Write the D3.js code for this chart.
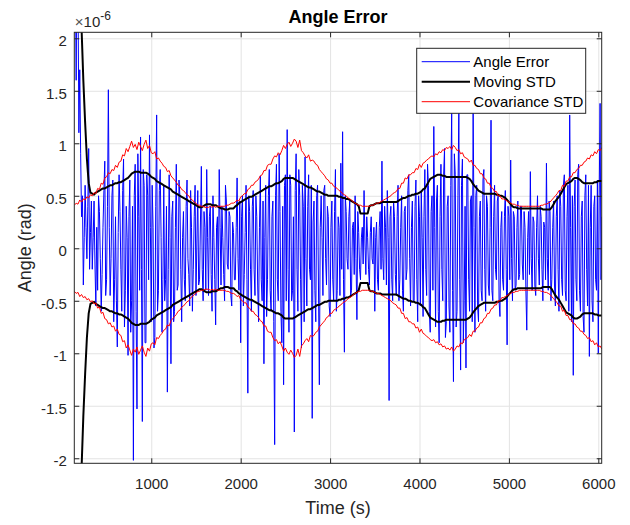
<!DOCTYPE html>
<html>
<head>
<meta charset="utf-8">
<script src="https://cdn.jsdelivr.net/npm/d3@7"></script>
<style>
  body { margin: 0; background: #fff; }
  text { font-family: "Liberation Sans", Arial, Helvetica, sans-serif; fill: #262626; }
  .grid line { stroke: #e3e3e3; stroke-width: 1; }
  .grid path { display: none; }
  .axis path { display: none; }
  .axis line { stroke: #262626; }
</style>
</head>
<body>
<div id="chart"></div>
<script>
// sampling (s): angle error every 10 s, the two std curves every 20 s
let t0 = 140;
let dtErr = 10;
let dtStd = 20;

// angle error, x1e-6 rad
let angleError = [
  3.5, 2.8, 1.6, 3.0, 2.5, 1.1, 1.7, 0.9, 0.3, 0.5, -0.35, 0.1, 0.6, 0.2, -0.1, 0.4, 0.95, -0.2, 0.15, 0.45,
  -0.2, 0.1, 0.45, -0.15, -0.55, 0.2, -0.4, 0.5, 0.35, -0.1, -0.6, -0.25, 0.2, 0.55, 0.83, -0.45, -0.3, 0.4, 1.51, 0.2,
  -0.45, -0.1, 0.5, 0.65, -0.7, -0.3, 0.3, -0.5, -0.94, 0.15, 0.7, 0.35, -0.2, -0.6, 0.55, 0.85, -0.75, -0.4, 0.4, 0.1,
  -1.02, 0.3, 0.65, -0.8, -0.5, 0.4, -2.02, 0.5, 0.8, -0.6, -1.53, 0.9, 0.3, -0.4, 1.06, -0.2, -1.65, 0.75, 0.6, -0.9,
  -0.9, 0.7, 0.5, -0.3, 1.08, 0.2, -0.7, 0.6, 0.2, -0.95, -0.85, 0.4, 1.27, -0.6, -0.4, 0.55, 0.75, 0.1, -0.8, -0.3,
  0.6, -0.5, -0.3, 0.4, -1.37, -0.2, 0.7, 0.1, -1.1, 0.3, 0.45, -0.7, -0.6, 0.2, 0.8, -0.4, -0.35, 0.65, 0.5, -0.2,
  -0.7, 0.1, 0.35, -0.3, -0.5, 0.4, 0.65, -0.1, -0.25, -0.55, 0.55, 0.2, -0.6, -0.2, 0.3, 0.6, -0.45, 0.05, 0.55, -0.35,
  -0.3, 0.25, 0.78, -0.2, -0.5, 0.35, 0.2, -0.4, 0.75, 0.1, -0.45, 0.3, 0.4, -0.25, -0.6, 0.5, 0.1, -0.3, -0.73, 0.2,
  0.3, -0.4, 0.75, 0.2, -0.35, 0.4, 0.1, -0.25, -0.5, 0.6, 0.45, -0.15, -0.2, 0.35, 0.3, -0.45, -0.55, 0.25, 0.15, -0.3,
  -0.3, 0.2, 0.67, -0.1, -0.4, 0.45, -0.9, 0.3, 0.5, -0.55, -0.25, 0.15, 0.6, -0.3, -1.38, 0.5, 0.35, -0.2, -0.6, 0.4,
  0.55, -0.2, -0.45, 0.5, 0.3, -0.35, -0.7, 0.2, 0.69, -0.3, -0.5, 0.45, -1.1, 0.1, 0.6, -0.65, -0.3, 0.5, 0.75, -0.4,
  -0.6, 0.3, 0.45, -0.7, -1.87, 0.5, 0.8, -0.3, -0.5, 0.9, 0.35, -0.6, -0.9, 0.4, -1.3, 0.6, 0.7, -0.5, 1.13, -0.2,
  -0.8, 0.7, 0.6, -0.5, -0.4, 0.3, -1.75, 0.55, 0.9, -0.2, -0.6, 0.75, 0.5, -0.3, -0.95, 0.6, 0.4, -0.7, 0.87, -0.1,
  -0.55, 0.4, 0.7, -0.2, -0.3, 0.6, -1.62, 0.25, 0.45, -0.4, -0.7, 0.5, 0.6, -0.35, -1.3, 0.2, 0.5, 0.1, -0.45, 0.55,
  0.6, -0.1, -0.35, 0.4, 0.3, -0.55, -0.65, 0.2, 0.45, -0.3, -0.5, 0.35, 0.75, -0.6, -0.4, 0.3, 0.2, -0.45, 0.81, -0.2,
  1.11, -0.3, -0.99, 0.5, 0.35, -0.1, -0.2, 0.3, 0.45, -0.45, -0.4, 0.2, 0.25, -0.25, 0.5, -0.1, -0.68, 0.35, 0.15, -0.2,
  -0.3, 0.1, 0.2, -0.15, 0.55, 0.05, -0.25, 0.3, 0.1, -0.2, -0.35, 0.15, 0.3, -0.1, -0.15, 0.2, -0.6, 0.1, 0.25, -0.3,
  -0.4, 0.2, 0.35, -0.2, 0.83, -0.1, -0.3, 0.4, 0.2, -0.35, 0.55, 0.1, -1.45, 0.3, 0.4, -0.3, -0.5, 0.45, 0.3, -0.25,
  -0.45, 0.3, 0.6, -0.5, -0.3, 0.2, 0.5, -0.4, -0.6, 0.35, 0.4, -0.3, -0.2, 0.55, 0.7, -0.1, -0.55, 0.2, 0.45, -0.5,
  -0.5, 0.4, 0.65, -0.3, -0.7, 0.5, 0.3, -0.55, 0.55, 0.1, -0.65, 0.3, 0.75, -0.2, -0.45, 0.8, 0.6, -0.6, -0.8, 0.35,
  0.5, -0.4, 1.16, 0.2, -0.75, 0.45, 0.6, -0.6, -0.9, 0.3, 0.8, -0.2, -0.5, 0.7, 0.95, -0.85, -0.7, 0.4, 0.5, -0.55,
  -0.8, 0.6, 1.29, -0.4, -1.27, 0.9, 0.7, -0.75, -0.6, 0.5, 1.29, -0.3, -1.16, 0.6, 0.85, -0.9, -0.5, 0.4, -1.14, 0.7,
  0.7, -0.3, -0.6, 0.45, 0.5, -0.7, 1.33, 0.2, -0.8, 0.5, 0.6, -0.55, -0.7, 0.3, 0.45, -0.4, -0.5, 0.65, 0.75, -0.2,
  -0.6, 0.5, 0.4, -0.35, -0.45, 0.2, 1.22, -0.4, -0.5, 0.3, 0.6, -0.2, -0.3, 0.45, 0.5, -0.5, -0.65, 0.2, 0.35, -0.3,
  -0.4, 0.3, 0.55, -0.2, -0.92, 0.4, 0.3, -0.3, 0.84, -0.1, -0.5, 0.35, 0.3, -0.4, -0.35, 0.2, 0.45, -0.3, -0.25, 0.4,
  0.4, -0.15, -0.3, 0.35, 0.2, -0.4, -0.78, 0.1, 0.35, -0.25, 0.73, -0.1, -0.4, 0.3, 0.25, -0.35, -0.45, 0.2, 0.5, -0.1,
  -0.35, 0.4, 0.3, -0.2, -0.5, 0.25, 0.2, -0.3, 0.81, -0.1, -0.4, 0.45, 0.35, -0.5, -0.3, 0.2, 0.45, -0.35, -0.55, 0.3,
  0.5, -0.2, -0.6, 0.55, 0.4, -0.3, -0.45, 0.6, 0.7, -0.4, -0.5, 0.3, 0.6, -0.6, 1.27, 0.2, -0.7, 0.5, -1.21, 0.4,
  0.65, -0.3, -0.5, 0.7, 0.8, -0.4, -0.6, 0.3, 0.45, -0.65, -0.8, 0.5, 0.7, -0.2, -0.55, 0.6, -1.03, 0.2, 0.6, -0.5,
  -0.7, 0.4, 0.5, -0.3, -0.4, 0.65, -1.0, 0.5, 1.38, -0.3, 0.3
];

// moving standard deviation (plotted as +/-)
let movingStd = [
  5.0, 4.0, 3.2, 2.6, 2.1, 1.6, 1.2, 0.85, 0.62, 0.53,
  0.52, 0.51, 0.53, 0.54, 0.55, 0.56, 0.57, 0.57, 0.58, 0.59,
  0.60, 0.60, 0.61, 0.62, 0.62, 0.63, 0.63, 0.64, 0.65, 0.66,
  0.67, 0.69, 0.71, 0.72, 0.73, 0.73, 0.73, 0.72, 0.72, 0.72,
  0.72, 0.71, 0.70, 0.68, 0.67, 0.66, 0.64, 0.63, 0.62, 0.61,
  0.60, 0.59, 0.58, 0.57, 0.56, 0.54, 0.53, 0.52, 0.51, 0.50,
  0.49, 0.48, 0.47, 0.46, 0.45, 0.44, 0.43, 0.42, 0.41, 0.40,
  0.39, 0.39, 0.40, 0.41, 0.42, 0.42, 0.42, 0.41, 0.41, 0.41,
  0.40, 0.39, 0.38, 0.38, 0.37, 0.37, 0.37, 0.38, 0.38, 0.38,
  0.40, 0.41, 0.43, 0.44, 0.45, 0.46, 0.47, 0.48, 0.49, 0.49,
  0.50, 0.51, 0.52, 0.53, 0.54, 0.55, 0.56, 0.57, 0.58, 0.59,
  0.59, 0.60, 0.61, 0.62, 0.62, 0.63, 0.64, 0.66, 0.67, 0.67,
  0.67, 0.67, 0.67, 0.66, 0.65, 0.64, 0.63, 0.62, 0.61, 0.60,
  0.59, 0.58, 0.58, 0.57, 0.56, 0.55, 0.54, 0.54, 0.53, 0.52,
  0.51, 0.51, 0.50, 0.50, 0.50, 0.50, 0.50, 0.50, 0.49, 0.49,
  0.48, 0.48, 0.47, 0.47, 0.46, 0.45, 0.44, 0.43, 0.42, 0.40,
  0.33, 0.33, 0.33, 0.33, 0.33, 0.40, 0.41, 0.41, 0.42, 0.43,
  0.43, 0.43, 0.44, 0.44, 0.44, 0.44, 0.44, 0.44, 0.44, 0.44,
  0.44, 0.45, 0.46, 0.47, 0.48, 0.48, 0.49, 0.50, 0.50, 0.51,
  0.51, 0.52, 0.52, 0.53, 0.54, 0.56, 0.57, 0.60, 0.63, 0.66,
  0.67, 0.68, 0.69, 0.70, 0.70, 0.70, 0.69, 0.69, 0.68, 0.68,
  0.68, 0.68, 0.68, 0.68, 0.68, 0.68, 0.68, 0.68, 0.68, 0.68,
  0.67, 0.66, 0.64, 0.61, 0.59, 0.57, 0.55, 0.54, 0.53, 0.52,
  0.52, 0.52, 0.52, 0.52, 0.52, 0.52, 0.51, 0.51, 0.50, 0.50,
  0.49, 0.48, 0.46, 0.44, 0.42, 0.40, 0.39, 0.39, 0.38, 0.38,
  0.38, 0.38, 0.38, 0.38, 0.38, 0.38, 0.38, 0.38, 0.38, 0.38,
  0.38, 0.38, 0.37, 0.37, 0.37, 0.37, 0.37, 0.39, 0.42, 0.45,
  0.47, 0.49, 0.52, 0.55, 0.58, 0.61, 0.62, 0.63, 0.64, 0.66,
  0.67, 0.67, 0.66, 0.65, 0.63, 0.62, 0.62, 0.62, 0.62, 0.62,
  0.62, 0.63, 0.63, 0.64, 0.64, 0.64
];

// covariance standard deviation (plotted as +/-)
let covStd = [
  0.41, 0.43, 0.42, 0.46, 0.44, 0.47, 0.46, 0.49, 0.48, 0.51,
  0.50, 0.53, 0.52, 0.57, 0.56, 0.62, 0.61, 0.67, 0.68, 0.72,
  0.71, 0.75, 0.74, 0.79, 0.77, 0.82, 0.83, 0.89, 0.88, 0.95,
  0.92, 0.97, 1.02, 0.96, 0.99, 0.94, 1.01, 0.97, 0.93, 0.99,
  1.03, 0.95, 0.98, 0.91, 0.90, 0.92, 0.85, 0.86, 0.83, 0.81,
  0.78, 0.77, 0.73, 0.74, 0.69, 0.67, 0.65, 0.63, 0.60, 0.59,
  0.56, 0.55, 0.53, 0.51, 0.50, 0.47, 0.46, 0.44, 0.43, 0.41,
  0.41, 0.40, 0.40, 0.39, 0.39, 0.39, 0.40, 0.39, 0.40, 0.39,
  0.40, 0.40, 0.40, 0.40, 0.40, 0.41, 0.41, 0.42, 0.43, 0.43,
  0.44, 0.46, 0.45, 0.49, 0.50, 0.52, 0.52, 0.56, 0.57, 0.60,
  0.60, 0.63, 0.64, 0.66, 0.69, 0.70, 0.74, 0.74, 0.79, 0.80,
  0.80, 0.85, 0.88, 0.87, 0.91, 0.89, 0.93, 0.98, 0.95, 0.99,
  1.01, 0.97, 1.00, 1.04, 1.02, 0.96, 1.03, 0.93, 0.91, 0.88,
  0.86, 0.89, 0.83, 0.84, 0.83, 0.80, 0.79, 0.75, 0.73, 0.71,
  0.69, 0.66, 0.65, 0.62, 0.62, 0.59, 0.58, 0.57, 0.55, 0.54,
  0.52, 0.51, 0.50, 0.48, 0.47, 0.46, 0.44, 0.43, 0.42, 0.41,
  0.41, 0.40, 0.40, 0.40, 0.40, 0.40, 0.41, 0.41, 0.42, 0.43,
  0.43, 0.44, 0.45, 0.46, 0.47, 0.48, 0.49, 0.50, 0.52, 0.53,
  0.54, 0.57, 0.57, 0.62, 0.62, 0.67, 0.66, 0.70, 0.70, 0.72,
  0.72, 0.76, 0.75, 0.80, 0.77, 0.81, 0.82, 0.84, 0.85, 0.87,
  0.88, 0.87, 0.90, 0.89, 0.92, 0.91, 0.94, 0.93, 0.96, 0.95,
  0.97, 0.94, 0.98, 0.96, 0.93, 0.94, 0.90, 0.91, 0.87, 0.86,
  0.85, 0.82, 0.84, 0.79, 0.79, 0.76, 0.75, 0.71, 0.71, 0.67,
  0.66, 0.62, 0.62, 0.58, 0.57, 0.54, 0.54, 0.50, 0.50, 0.47,
  0.47, 0.46, 0.45, 0.44, 0.43, 0.42, 0.42, 0.41, 0.41, 0.40,
  0.40, 0.40, 0.40, 0.40, 0.40, 0.40, 0.40, 0.40, 0.40, 0.40,
  0.40, 0.41, 0.41, 0.42, 0.42, 0.43, 0.44, 0.46, 0.48, 0.50,
  0.52, 0.55, 0.55, 0.60, 0.59, 0.64, 0.64, 0.68, 0.68, 0.72,
  0.72, 0.75, 0.76, 0.79, 0.79, 0.82, 0.83, 0.86, 0.85, 0.89,
  0.88, 0.92, 0.90, 0.94, 0.93, 0.96
];

let xTicks = [1000, 2000, 3000, 4000, 5000, 6000];
let yTicks = [-2, -1.5, -1, -0.5, 0, 0.5, 1, 1.5, 2];
let yTickLabels = ["-2", "-1.5", "-1", "-0.5", "0", "0.5", "1", "1.5", "2"];
let seriesNames = ["Angle Error", "Moving STD", "Covariance STD"];
let seriesColors = ["#0000ff", "#000000", "#ff0000"];
let seriesWidths = [1, 2, 1];

let W = 630, H = 525;
let margin = {top: 32.3, left: 74.3, bottom: 61.7, right: 28.3};
let width = W - margin.left - margin.right;
let height = H - margin.top - margin.bottom;

let errData = angleError.map((d, i) => ({t: t0 + i * dtErr, v: d}));
let stdData = movingStd.map((d, i) => ({t: t0 + i * dtStd, ms: d, cs: covStd[i]}));

let xScale = d3.scaleLinear()
  .domain([139, 6038])
  .range([0, width]);

let yScale = d3.scaleLinear()
  .domain([-2.048, 2.057])
  .range([height, 0]);

let svg = d3.select("#chart").append("svg")
    .attr("width", W)
    .attr("height", H)
  .append("g")
    .attr("transform", `translate(${margin.left}, ${margin.top})`);

svg.append("rect")
    .attr("width", width)
    .attr("height", height)
    .attr("fill", "#fff");

// grid
svg.append("g")
    .attr("class", "grid")
    .attr("transform", `translate(0, ${height})`)
    .call(d3.axisBottom(xScale).tickValues(xTicks).tickSize(-height).tickFormat(""));
svg.append("g")
    .attr("class", "grid")
    .call(d3.axisLeft(yScale).tickValues(yTicks).tickSize(-width).tickFormat(""));

svg.append("clipPath")
    .attr("id", "plot-clip")
  .append("rect")
    .attr("width", width)
    .attr("height", height);

let plot = svg.append("g").attr("clip-path", "url(#plot-clip)");

let lineOf = (key, sign) => d3.line()
    .x(d => xScale(d.t))
    .y(d => yScale(sign * d[key]));

plot.append("path")
    .datum(errData)
    .attr("fill", "none")
    .attr("stroke", seriesColors[0])
    .attr("stroke-width", seriesWidths[0])
    .attr("stroke-linejoin", "round")
    .attr("d", lineOf("v", 1));

[1, -1].forEach(s => {
  plot.append("path")
      .datum(stdData)
      .attr("fill", "none")
      .attr("stroke", seriesColors[1])
      .attr("stroke-width", seriesWidths[1])
      .attr("stroke-linejoin", "round")
      .attr("d", lineOf("ms", s));
});

[1, -1].forEach(s => {
  plot.append("path")
      .datum(stdData)
      .attr("fill", "none")
      .attr("stroke", seriesColors[2])
      .attr("stroke-width", seriesWidths[2])
      .attr("stroke-linejoin", "round")
      .attr("d", lineOf("cs", s));
});

// axes, ticks pointing inward on all four sides
let xAxis = svg.append("g")
    .attr("class", "axis")
    .attr("transform", `translate(0, ${height})`)
    .call(d3.axisBottom(xScale).tickValues(xTicks).tickSize(-5).tickSizeOuter(0).tickPadding(0).tickFormat(d3.format("d")));
xAxis.selectAll("text")
    .attr("y", 26)
    .attr("dy", null)
    .style("font-size", "15px");

let yAxis = svg.append("g")
    .attr("class", "axis")
    .call(d3.axisLeft(yScale).tickValues(yTicks).tickSize(-5).tickSizeOuter(0).tickFormat((d, i) => yTickLabels[i]));
yAxis.selectAll("text")
    .attr("x", -7.5)
    .attr("dy", null)
    .attr("y", 7.5)
    .style("font-size", "15px");

svg.append("g")
    .attr("class", "axis")
    .call(d3.axisTop(xScale).tickValues(xTicks).tickSize(-5).tickSizeOuter(0).tickFormat(""));
svg.append("g")
    .attr("class", "axis")
    .attr("transform", `translate(${width}, 0)`)
    .call(d3.axisRight(yScale).tickValues(yTicks).tickSize(-5).tickSizeOuter(0).tickFormat(""));

svg.append("rect")
    .attr("width", width)
    .attr("height", height)
    .attr("fill", "none")
    .attr("stroke", "#262626")
    .attr("stroke-width", 1);

// exponent
let expo = svg.append("text")
    .attr("x", 0.5)
    .attr("y", -5.5)
    .style("font-size", "15px");
expo.append("tspan").attr("fill", "#555").text("\u00d7");
expo.append("tspan").text("10");
expo.append("tspan").attr("dy", -7).style("font-size", "12px").text("-6");

// title and labels
svg.append("text")
    .attr("x", width / 2)
    .attr("y", -9.3)
    .attr("text-anchor", "middle")
    .style("font-size", "18px")
    .style("font-weight", "bold")
    .style("fill", "#000")
    .text("Angle Error");

svg.append("text")
    .attr("x", width / 2)
    .attr("y", height + 51)
    .attr("text-anchor", "middle")
    .style("font-size", "18px")
    .text("Time (s)");

svg.append("text")
    .attr("transform", `translate(${30.5 - margin.left}, ${height / 2}) rotate(-90)`)
    .attr("text-anchor", "middle")
    .style("font-size", "18px")
    .text("Angle (rad)");

// legend
let lg = svg.append("g")
    .attr("transform", `translate(${416.7 - margin.left}, ${48.3 - margin.top})`);
lg.append("rect")
    .attr("width", 169)
    .attr("height", 65)
    .attr("fill", "#fff")
    .attr("stroke", "#262626")
    .attr("stroke-width", 1);
seriesNames.forEach((name, i) => {
  let y = 13.4 + i * 20;
  lg.append("line")
      .attr("x1", 5).attr("x2", 53.3)
      .attr("y1", y).attr("y2", y)
      .attr("stroke", seriesColors[i])
      .attr("stroke-width", seriesWidths[i]);
  lg.append("text")
      .attr("x", 56.6)
      .attr("y", y + 5.3)
      .style("font-size", "15px")
      .style("fill", "#000")
      .text(name);
});
</script>
</body>
</html>
